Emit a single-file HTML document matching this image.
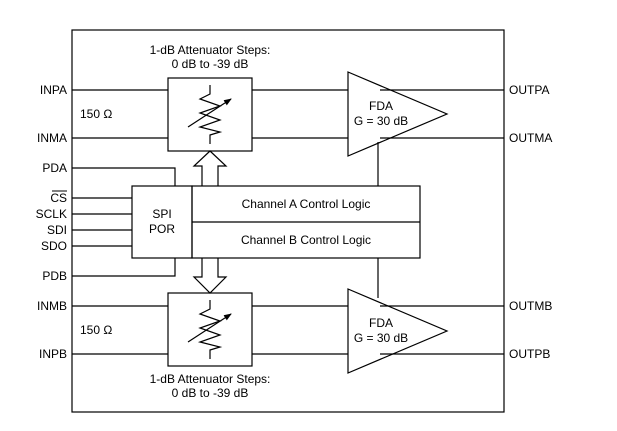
<!DOCTYPE html>
<html><head><style>body{margin:0;background:#fff}svg{display:block}text{font-family:"Liberation Sans",sans-serif;font-size:12px;fill:#000}</style></head>
<body>
<svg width="617" height="431" viewBox="0 0 617 431" xmlns="http://www.w3.org/2000/svg">
<defs><marker id="ah" markerWidth="8" markerHeight="8" refX="7" refY="4" orient="auto" markerUnits="userSpaceOnUse"><path d="M0,1 L8,4 L0,7 z" fill="#000"/></marker>
<g id="res"><path d="M0,-28 V-19 L-10,-14 L10,-7 L-10,0 L10,7 L-10,14 L10,19 L0,22 V31" fill="none" stroke="#000" stroke-width="1.2"/>
<line x1="-22" y1="14" x2="21" y2="-14" stroke="#000" stroke-width="1.2" marker-end="url(#ah)"/></g></defs>
<g fill="none" stroke="#000" stroke-width="1.2">
<rect x="72" y="30" width="432" height="382"/>
<rect x="168" y="78" width="84" height="73"/>
<rect x="168" y="293" width="84" height="73"/>
<rect x="132" y="186" width="60" height="72"/>
<rect x="192" y="186" width="228" height="72"/>
<line x1="192" y1="222" x2="420" y2="222"/>
<path d="M348,72 L447,114 L348,156 z"/>
<path d="M348,289 L447,331 L348,373 z"/>
<path d="M72,90H168 M72,138H168 M252,90H348 M252,138H348 M380,90H504 M380,138H504"/>
<path d="M72,306H168 M72,354H168 M252,306H348 M252,354H348 M380,306H504 M380,354H504"/>
<path d="M72,168H175V186 M72,276H175V258 M72,198H132 M72,214H132 M72,230H132 M72,246H132"/>
<path d="M378,142V186 M378,258V298"/>
<path d="M202,186V166H194L210,151L226,166H218V186"/>
<path d="M202,258V277H194L210,293L226,277H218V258"/>
</g>
<use href="#res" x="210" y="113"/>
<use href="#res" x="210" y="328"/>
<g text-anchor="end">
<text x="67" y="94">INPA</text><text x="67" y="142">INMA</text><text x="67" y="172">PDA</text>
<text x="67" y="202">CS</text><text x="67" y="218">SCLK</text><text x="67" y="234">SDI</text><text x="67" y="250">SDO</text>
<text x="67" y="280">PDB</text><text x="67" y="310">INMB</text><text x="67" y="358">INPB</text>
</g>
<line x1="52" y1="191" x2="67" y2="191" stroke="#000" stroke-width="1"/>
<text x="509" y="94">OUTPA</text><text x="509" y="142">OUTMA</text><text x="509" y="310">OUTMB</text><text x="509" y="358">OUTPB</text>
<text x="80" y="118">150 Ω</text><text x="80" y="334">150 Ω</text>
<g text-anchor="middle">
<text x="210" y="54">1-dB Attenuator Steps:</text><text x="210" y="68">0 dB to -39 dB</text>
<text x="210" y="383">1-dB Attenuator Steps:</text><text x="210" y="397">0 dB to -39 dB</text>
<text x="381" y="110">FDA</text><text x="381" y="125">G = 30 dB</text>
<text x="381" y="327">FDA</text><text x="381" y="342">G = 30 dB</text>
<text x="162" y="218">SPI</text><text x="162" y="233">POR</text>
<text x="306" y="208">Channel A Control Logic</text><text x="306" y="244">Channel B Control Logic</text>
</g>
</svg>
</body></html>
